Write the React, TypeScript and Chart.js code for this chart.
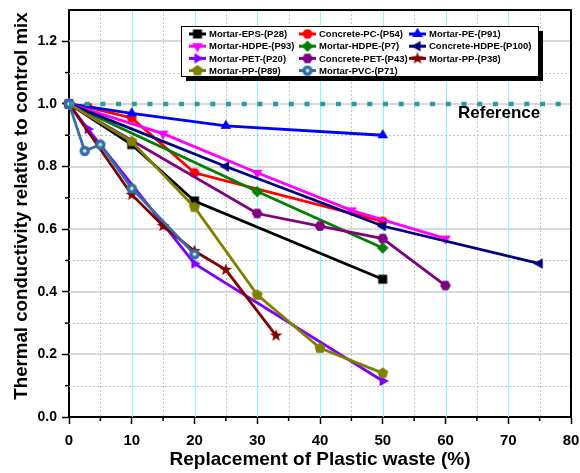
import React, { useEffect, useRef } from 'react';
import { Chart, registerables } from 'chart.js';

Chart.register(...registerables);

const FONT = '"Liberation Sans", Arial, Helvetica, sans-serif';

// ---- data (x = replacement %, y = relative thermal conductivity) ----
const X_EPS_P28 = [0, 10, 20, 50];
const Y_EPS_P28 = [1.0, 0.87, 0.69, 0.44];
const X_PC_P54 = [0, 3, 10, 20, 50];
const Y_PC_P54 = [1.0, 0.99, 0.955, 0.78, 0.625];
const X_PE_P91 = [0, 10, 25, 50];
const Y_PE_P91 = [1.0, 0.97, 0.93, 0.9];
const X_HDPE_P93 = [0, 15, 30, 45, 60];
const Y_HDPE_P93 = [1.0, 0.905, 0.78, 0.66, 0.57];
const X_HDPE_P7 = [0, 30, 50];
const Y_HDPE_P7 = [1.0, 0.72, 0.54];
const X_HDPE_P100 = [0, 25, 50, 75];
const Y_HDPE_P100 = [1.0, 0.8, 0.61, 0.49];
const X_PET_P20 = [0, 3, 20, 50];
const Y_PET_P20 = [1.0, 0.92, 0.49, 0.115];
const X_PET_P43 = [0, 30, 40, 50, 60];
const Y_PET_P43 = [1.0, 0.65, 0.61, 0.57, 0.42];
const X_PP_P38 = [0, 10, 15, 20, 25, 33];
const Y_PP_P38 = [1.0, 0.71, 0.61, 0.53, 0.47, 0.26];
const X_PP_P89 = [0, 10, 20, 30, 40, 50];
const Y_PP_P89 = [1.0, 0.88, 0.67, 0.39, 0.22, 0.14];
const X_PVC_P71 = [0, 2.5, 5, 10, 20];
const Y_PVC_P71 = [1.0, 0.85, 0.87, 0.73, 0.52];
const X_REFERENCE = [0, 80];
const Y_REFERENCE = [1.0, 1.0];

const X_TICKS = [0, 10, 20, 30, 40, 50, 60, 70, 80];
const X_MINOR = [5, 15, 25, 35, 45, 55, 65, 75];
const Y_TICKS = [0, 0.2, 0.4, 0.6, 0.8, 1.0, 1.2];
const Y_MINOR = [0.1, 0.3, 0.5, 0.7, 0.9, 1.1];

const X_TITLE = 'Replacement of Plastic waste (%)';
const Y_TITLE = 'Thermal conductivity relative to control mix';
const REF_LABEL = 'Reference';

// ---- marker canvases ----
function mk(draw: (c: CanvasRenderingContext2D, m: number) => void, size = 16) {
  const cv = document.createElement('canvas');
  cv.width = size;
  cv.height = size;
  const c = cv.getContext('2d') as CanvasRenderingContext2D;
  draw(c, size / 2);
  return cv;
}
function poly(c: CanvasRenderingContext2D, m: number, n: number, r: number, rot: number, color: string) {
  c.beginPath();
  for (let i = 0; i < n; i++) {
    const a = rot + (i * 2 * Math.PI) / n;
    const px = m + r * Math.cos(a);
    const py = m + r * Math.sin(a);
    if (i === 0) c.moveTo(px, py);
    else c.lineTo(px, py);
  }
  c.closePath();
  c.fillStyle = color;
  c.fill();
}
function star(c: CanvasRenderingContext2D, m: number, ro: number, ri: number, color: string) {
  c.beginPath();
  for (let i = 0; i < 10; i++) {
    const a = -Math.PI / 2 + (i * Math.PI) / 5;
    const r = i % 2 === 0 ? ro : ri;
    const px = m + r * Math.cos(a);
    const py = m + r * Math.sin(a);
    if (i === 0) c.moveTo(px, py);
    else c.lineTo(px, py);
  }
  c.closePath();
  c.fillStyle = color;
  c.fill();
}

function makeMarkers() {
  return {
    square: (col: string) => mk((c, m) => { c.fillStyle = col; c.fillRect(m - 4.5, m - 4.5, 9, 9); }),
    circle: (col: string) => mk((c, m) => { c.beginPath(); c.arc(m, m, 4.8, 0, Math.PI * 2); c.fillStyle = col; c.fill(); }),
    triUp: (col: string) => mk((c, m) => poly(c, m, 3, 6.2, -Math.PI / 2, col)),
    triDown: (col: string) => mk((c, m) => poly(c, m, 3, 6.2, Math.PI / 2, col)),
    triLeft: (col: string) => mk((c, m) => poly(c, m, 3, 6.2, Math.PI, col)),
    triRight: (col: string) => mk((c, m) => poly(c, m, 3, 6.2, 0, col)),
    diamond: (col: string) => mk((c, m) => poly(c, m, 4, 5.8, 0, col)),
    hexagon: (col: string) => mk((c, m) => poly(c, m, 6, 5.4, 0, col)),
    pentagon: (col: string) => mk((c, m) => poly(c, m, 5, 5.8, -Math.PI / 2, col)),
    star: (col: string) => mk((c, m) => star(c, m, 6.6, 2.7, col)),
    dotCircle: (col: string) => mk((c, m) => {
      c.beginPath(); c.arc(m, m, 5.2, 0, Math.PI * 2); c.fillStyle = col; c.fill();
      c.beginPath(); c.arc(m, m, 1.8, 0, Math.PI * 2); c.fillStyle = '#e8f0ff'; c.fill();
    }),
  };
}

function pts(xs: number[], ys: number[]) {
  return xs.map((x, i) => ({ x, y: ys[i] }));
}

export default function App() {
  const ref = useRef<HTMLCanvasElement | null>(null);

  useEffect(() => {
    const canvas = ref.current;
    if (!canvas) return;
    const M = makeMarkers();

    const series = [
      { name: 'Mortar-EPS-(P28)', xs: X_EPS_P28, ys: Y_EPS_P28, color: '#000000', marker: M.square('#000000') },
      { name: 'Concrete-PC-(P54)', xs: X_PC_P54, ys: Y_PC_P54, color: '#ff0000', marker: M.circle('#ff0000') },
      { name: 'Mortar-PE-(P91)', xs: X_PE_P91, ys: Y_PE_P91, color: '#0000ff', marker: M.triUp('#0000ff') },
      { name: 'Mortar-HDPE-(P93)', xs: X_HDPE_P93, ys: Y_HDPE_P93, color: '#ff00ff', marker: M.triDown('#ff00ff') },
      { name: 'Mortar-HDPE-(P7)', xs: X_HDPE_P7, ys: Y_HDPE_P7, color: '#008000', marker: M.diamond('#008000') },
      { name: 'Concrete-HDPE-(P100)', xs: X_HDPE_P100, ys: Y_HDPE_P100, color: '#000080', marker: M.triLeft('#000080') },
      { name: 'Mortar-PET-(P20)', xs: X_PET_P20, ys: Y_PET_P20, color: '#8000ff', marker: M.triRight('#8000ff') },
      { name: 'Concrete-PET-(P43)', xs: X_PET_P43, ys: Y_PET_P43, color: '#800080', marker: M.hexagon('#800080') },
      { name: 'Mortar-PP-(P38)', xs: X_PP_P38, ys: Y_PP_P38, color: '#800000', marker: M.star('#800000') },
      { name: 'Mortar-PP-(P89)', xs: X_PP_P89, ys: Y_PP_P89, color: '#808000', marker: M.pentagon('#808000') },
      { name: 'Mortar-PVC-(P71)', xs: X_PVC_P71, ys: Y_PVC_P71, color: '#336ea6', marker: M.dotCircle('#336ea6') },
    ];

    const datasets: any[] = series.map((s, i) => ({
      label: s.name,
      data: pts(s.xs, s.ys),
      borderColor: s.color,
      backgroundColor: s.color,
      borderWidth: 2.8,
      pointStyle: s.marker,
      pointRadius: 5,
      tension: 0,
      clip: false,
      order: 20 - i,
    }));
    datasets.push({
      label: REF_LABEL,
      data: pts(X_REFERENCE, Y_REFERENCE),
      borderColor: '#2b9c96',
      borderWidth: 4.5,
      borderDash: [5, 10.7],
      borderCapStyle: 'butt',
      pointRadius: 0,
      clip: false,
      order: 0,
    });

    const decor = {
      id: 'decor',
      beforeDatasetsDraw(chart: any) {
        const { ctx, chartArea: a, scales } = chart;
        const x = scales.x, y = scales.y;
        ctx.save();
        // minor dotted grid
        ctx.strokeStyle = '#c4c4c4';
        ctx.lineWidth = 1;
        ctx.setLineDash([2, 2]);
        for (const v of X_MINOR) {
          const px = Math.round(x.getPixelForValue(v)) + 0.5;
          ctx.beginPath(); ctx.moveTo(px, a.top); ctx.lineTo(px, a.bottom); ctx.stroke();
        }
        for (const v of Y_MINOR) {
          const py = Math.round(y.getPixelForValue(v)) + 0.5;
          ctx.beginPath(); ctx.moveTo(a.left, py); ctx.lineTo(a.right, py); ctx.stroke();
        }
        ctx.setLineDash([]);
        // major horizontal grid
        ctx.strokeStyle = '#cccccc';
        ctx.lineWidth = 1.5;
        for (const v of Y_TICKS) {
          if (v === 0) continue;
          const py = Math.round(y.getPixelForValue(v));
          ctx.beginPath(); ctx.moveTo(a.left, py); ctx.lineTo(a.right, py); ctx.stroke();
        }
        // major vertical grid (cyan)
        ctx.strokeStyle = '#8cf7f7';
        ctx.lineWidth = 1;
        for (const v of X_TICKS) {
          if (v === 0 || v === 80) continue;
          const px = Math.round(x.getPixelForValue(v)) + 0.5;
          ctx.beginPath(); ctx.moveTo(px, a.top); ctx.lineTo(px, a.bottom); ctx.stroke();
        }
        ctx.restore();
      },
      afterDraw(chart: any) {
        const { ctx, chartArea: a, scales } = chart;
        const x = scales.x, y = scales.y;
        ctx.save();
        // frame top/right
        ctx.strokeStyle = '#000';
        ctx.lineWidth = 2;
        ctx.beginPath();
        ctx.moveTo(a.left, a.top); ctx.lineTo(a.right, a.top); ctx.lineTo(a.right, a.bottom);
        ctx.stroke();
        // minor ticks
        ctx.lineWidth = 1.5;
        for (const v of X_MINOR) {
          const px = x.getPixelForValue(v);
          ctx.beginPath(); ctx.moveTo(px, a.bottom); ctx.lineTo(px, a.bottom + 4); ctx.stroke();
        }
        for (const v of Y_MINOR) {
          const py = y.getPixelForValue(v);
          ctx.beginPath(); ctx.moveTo(a.left, py); ctx.lineTo(a.left - 4, py); ctx.stroke();
        }
        // axis titles
        ctx.fillStyle = '#000';
        ctx.font = `bold 19px ${FONT}`;
        ctx.textAlign = 'center';
        ctx.textBaseline = 'alphabetic';
        ctx.fillText(X_TITLE, (a.left + a.right) / 2, 465);
        ctx.save();
        ctx.font = `bold 18.7px ${FONT}`;
        ctx.translate(27, 206);
        ctx.rotate(-Math.PI / 2);
        ctx.fillText(Y_TITLE, 0, 0);
        ctx.restore();
        // reference label
        ctx.font = `bold 17px ${FONT}`;
        ctx.textAlign = 'left';
        ctx.fillText(REF_LABEL, 458, 118);

        // legend
        const bx = 181.5, by = 26.5, bw = 357, bh = 50;
        ctx.fillStyle = '#000';
        ctx.fillRect(bx + 4.5, by + 4.5, bw, bh);
        ctx.fillStyle = '#fff';
        ctx.fillRect(bx, by, bw, bh);
        ctx.strokeStyle = '#000';
        ctx.lineWidth = 1;
        ctx.strokeRect(bx, by, bw, bh);
        const colX = [189, 299, 409];
        ctx.font = `bold 9.5px ${FONT}`;
        ctx.textBaseline = 'middle';
        series.forEach((s, i) => {
          const col = i % 3, row = Math.floor(i / 3);
          const lx = colX[col];
          const ly = 34 + row * 12.2;
          ctx.strokeStyle = s.color;
          ctx.lineWidth = 3;
          ctx.beginPath(); ctx.moveTo(lx, ly); ctx.lineTo(lx + 17, ly); ctx.stroke();
          const mc = s.marker;
          ctx.drawImage(mc, lx + 8.5 - mc.width / 2, ly - mc.height / 2);
          ctx.fillStyle = '#000';
          ctx.fillText(s.name, lx + 20, ly + 0.5);
        });
        ctx.restore();
      },
    };

    const chart = new Chart(canvas, {
      type: 'line',
      data: { datasets },
      options: {
        animation: false,
        responsive: false,
        devicePixelRatio: 1,
        events: [],
        layout: { padding: { left: 0, top: 10, right: 9, bottom: 0 } },
        plugins: { legend: { display: false }, tooltip: { enabled: false } },
        scales: {
          x: {
            type: 'linear',
            min: 0,
            max: 80,
            afterFit: (s: any) => { s.height = 56; s.paddingLeft = 0; s.paddingRight = 0; },
            afterBuildTicks: (s: any) => { s.ticks = X_TICKS.map((v) => ({ value: v })); },
            ticks: {
              color: '#000',
              font: { family: FONT, size: 15, weight: 'bold' },
              padding: 8,
              maxRotation: 0,
              callback: (v: any) => String(v),
            },
            grid: { drawOnChartArea: false, drawTicks: true, tickLength: 7, tickColor: '#000', tickWidth: 1.5 },
            border: { color: '#000', width: 2 },
          },
          y: {
            type: 'linear',
            min: 0,
            max: 1.3,
            afterFit: (s: any) => { s.width = 69; s.paddingTop = 0; s.paddingBottom = 0; },
            afterBuildTicks: (s: any) => { s.ticks = Y_TICKS.map((v) => ({ value: v })); },
            ticks: {
              color: '#000',
              font: { family: FONT, size: 14, weight: 'bold' },
              padding: 5,
              callback: (v: any) => Number(v).toFixed(1),
            },
            grid: { drawOnChartArea: false, drawTicks: true, tickLength: 7, tickColor: '#000', tickWidth: 1.5 },
            border: { color: '#000', width: 2 },
          },
        },
      } as any,
      plugins: [decor],
    });
    return () => chart.destroy();
  }, []);

  return (
    <div style={{ position: 'absolute', left: 0, top: 0, width: 580, height: 473, background: '#fff' }}>
      <canvas ref={ref} width={580} height={473} style={{ display: 'block', width: 580, height: 473 }} />
    </div>
  );
}
